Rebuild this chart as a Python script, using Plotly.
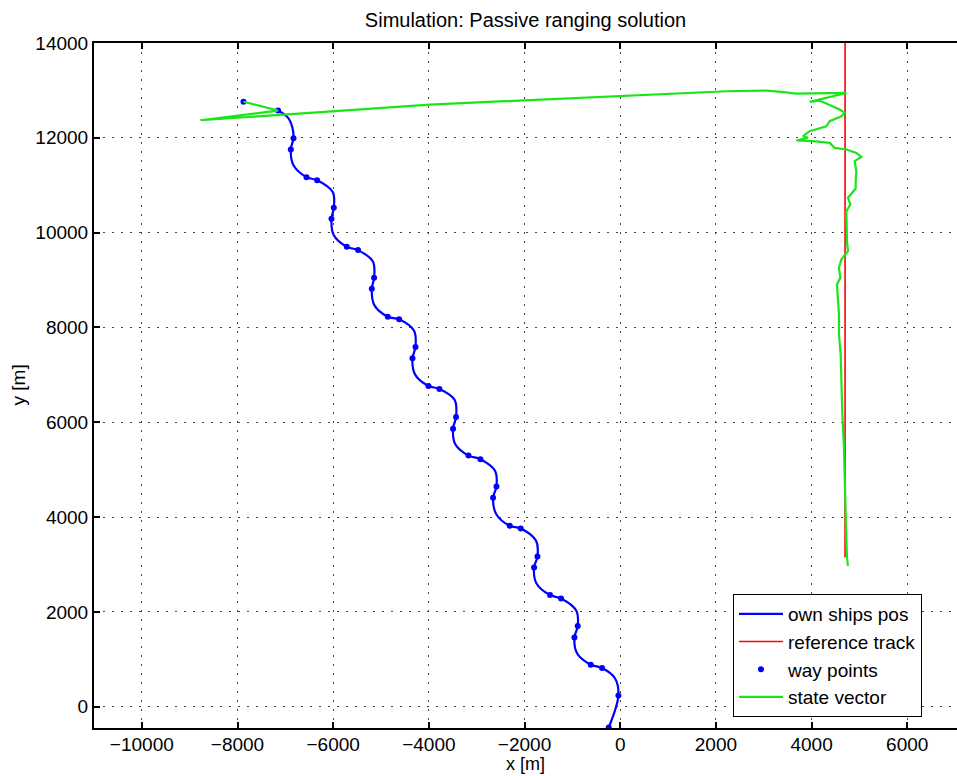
import plotly.graph_objects as go

# ---- data ----
# own ship path (way points + a few points read along the arcs)
ship_x = [-240, -38, -110, -380, -617, -900, -957, -888, -920,
          -1237, -1467, -1750, -1801, -1730, -1760,
          -2080, -2309, -2590, -2658, -2587, -2620,
          -2922, -3172, -3450, -3494, -3432, -3460,
          -3779, -4009, -4290, -4343, -4280, -4310,
          -4622, -4859, -5140, -5193, -5145, -5170,
          -5480, -5716, -5990, -6036, -5987, -6010,
          -6336, -6558, -6830, -6886, -6830, -6851, -6942, -7152]
ship_y = [-440, 238, 600, 815, 885, 1120, 1460, 1700, 2030,
          2282, 2354, 2600, 2936, 3168, 3500,
          3758, 3815, 4060, 4405, 4643, 4980,
          5220, 5296, 5540, 5865, 6112, 6470,
          6702, 6765, 7010, 7349, 7587, 7930,
          8171, 8226, 8470, 8816, 9047, 9390,
          9631, 9701, 9950, 10291, 10523, 10860,
          11106, 11170, 11420, 11753, 11991, 12209, 12420, 12575]

# way points
wp_x = [-240, -38, -380, -617, -957, -888,
        -1237, -1467, -1801, -1730,
        -2080, -2309, -2658, -2587,
        -2922, -3172, -3494, -3432,
        -3779, -4009, -4343, -4280,
        -4622, -4859, -5193, -5145,
        -5480, -5716, -6036, -5987,
        -6336, -6558, -6886, -6830, -7152, -7875]
wp_y = [-440, 238, 815, 885, 1460, 1700,
        2282, 2354, 2936, 3168,
        3758, 3815, 4405, 4643,
        5220, 5296, 5865, 6112,
        6702, 6765, 7349, 7587,
        8171, 8226, 8816, 9047,
        9631, 9701, 10291, 10523,
        11106, 11170, 11753, 11991, 12575, 12760]

# reference track
ref_x = [4700, 4700]
ref_y = [3150, 14000]

# state vector (estimated target position)
sv_x = [4761, 4740, 4728, 4713, 4706, 4677, 4643, 4622, 4608, 4573, 4573,
        4531, 4601, 4573, 4622, 4761, 4740, 4728, 4811, 4761, 4922, 4922,
        4936, 4901, 5041, 4936, 4728, 4483, 4378, 4029, 3682, 3925, 3820,
        3960, 4309, 4378, 4622, 4692, 4587, 4169, 3960, 4728, 3682, 3369,
        3055, 2219, -428, -3981, -6489, -8773, -7152, -7875]
sv_y = [2972, 3146, 3498, 4061, 4763, 5465, 6168, 6870, 7433, 7855, 8276,
        8908, 9047, 9258, 9435, 9610, 9821, 10453, 10594, 10734, 10931, 11085,
        11297, 11507, 11598, 11682, 11753, 11787, 11893, 11929, 11943, 11998, 12034,
        12139, 12244, 12350, 12455, 12525, 12597, 12786, 12757, 12946, 12933, 12968,
        12997, 12982, 12856, 12702, 12525, 12371, 12575, 12760]

x_ticks = [-10000, -8000, -6000, -4000, -2000, 0, 2000, 4000, 6000]
x_labels = ["\u221210000", "\u22128000", "\u22126000", "\u22124000", "\u22122000",
            "0", "2000", "4000", "6000"]
y_ticks = [0, 2000, 4000, 6000, 8000, 10000, 12000, 14000]
y_labels = ["0", "2000", "4000", "6000", "8000", "10000", "12000", "14000"]

FONT = "Liberation Sans, Arial, Helvetica, sans-serif"

fig = go.Figure()
fig.add_trace(go.Scatter(x=ship_x, y=ship_y, mode="lines", name="own ships pos",
                         line=dict(color="#0000ff", width=2.2, shape="spline", smoothing=1.0)))
fig.add_trace(go.Scatter(x=ref_x, y=ref_y, mode="lines", name="reference track",
                         line=dict(color="#ff0000", width=1.6)))
fig.add_trace(go.Scatter(x=wp_x, y=wp_y, mode="markers", name="way points",
                         marker=dict(color="#0000ff", size=6)))
fig.add_trace(go.Scatter(x=sv_x, y=sv_y, mode="lines", name="state vector",
                         line=dict(color="#19e619", width=2.2)))

plot_w = 957 - 94
plot_h = 776 - 43 - 48

grid = dict(showgrid=True, gridcolor="#444", gridwidth=1, griddash="2px,7px")
fig.update_layout(
    width=957, height=776,
    margin=dict(l=94, r=0, t=43, b=48),
    paper_bgcolor="white", plot_bgcolor="white",
    font=dict(family=FONT, size=19, color="black"),
    title=dict(text="Simulation: Passive ranging solution", x=0.5, xref="paper",
               y=1 - 20 / 776, yref="container", yanchor="middle",
               font=dict(size=20, family=FONT, color="black")),
    xaxis=dict(range=[-11000, 7040], tickvals=x_ticks, ticktext=x_labels,
               ticks="inside", ticklen=6, tickwidth=1.5, tickcolor="black",
               showline=True, linecolor="black", linewidth=2, mirror="ticks",
               zeroline=False, tickfont=dict(size=19), ticklabelstandoff=-2, **grid),
    yaxis=dict(range=[-450, 14000], tickvals=y_ticks, ticktext=y_labels,
               ticks="inside", ticklen=6, tickwidth=1.5, tickcolor="black",
               showline=True, linecolor="black", linewidth=2, mirror=False,
               zeroline=False, tickfont=dict(size=19), **grid),
    legend=dict(x=(922 - 94) / plot_w, y=(728 - 717) / plot_h,
                xanchor="right", yanchor="bottom",
                bgcolor="white", bordercolor="black", borderwidth=1,
                font=dict(size=19), itemwidth=44, tracegroupgap=0),
    annotations=[
        dict(text="x [m]", x=0.5, xref="paper", y=-(775 - 728) / plot_h, yref="paper",
             yanchor="bottom", showarrow=False, borderpad=0, font=dict(size=18)),
        dict(text="y [m]", x=-(94 - 18) / plot_w, xref="paper", xanchor="center",
             y=0.5, yref="paper", textangle=-90, showarrow=False, font=dict(size=19)),
    ],
)

fig.write_html("out.html")
